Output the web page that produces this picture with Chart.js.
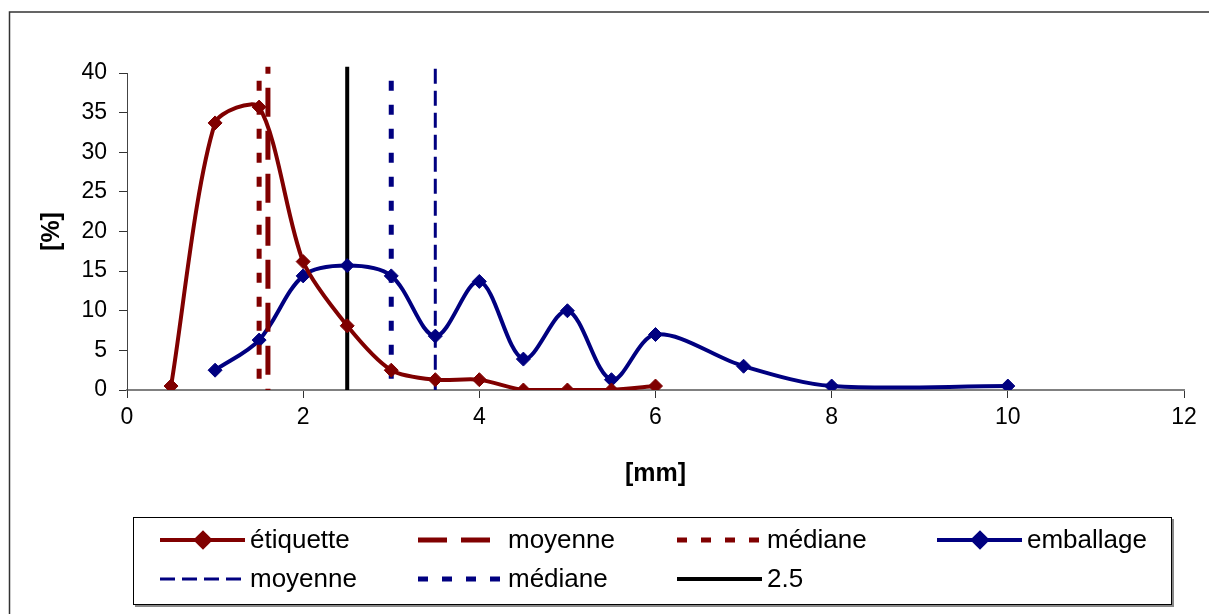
<!DOCTYPE html>
<html>
<head>
<meta charset="utf-8">
<script src="https://cdn.jsdelivr.net/npm/chart.js@4/dist/chart.umd.min.js"></script>
<style>
body{margin:0;background:#fff}
canvas{display:block}
</style>
</head>
<body>
<canvas id="graphe" width="1209" height="614"></canvas>
<script>

// données
let etiquetteX=[0.5,1,1.5,2,2.5,3,3.5,4,4.5,5,5.5,6]
let etiquetteY=[0.5,33.7,35.7,16.2,8.1,2.5,1.3,1.3,0,0,0,0.5]
let emballageX=[1,1.5,2,2.5,3,3.5,4,4.5,5,5.5,6,7,8,10]
let emballageY=[2.5,6.3,14.4,15.7,14.4,6.8,13.7,3.9,10,1.3,7,3,0.5,0.5]

let moyenneEtiquette=1.6
let medianeEtiquette=1.5
let moyenneEmballage=3.5
let medianeEmballage=3
let reference=2.5
let hauteurVerticale=[40.8,0]

let ticksX=[0,2,4,6,8,10,12]
let ticksY=[0,5,10,15,20,25,30,35,40]

let rouge="#800000"
let bleu="#000080"

function points(xs,ys){
return xs.map((x,i)=>({x:x,y:ys[i]}))
}

function verticale(x){
return hauteurVerticale.map(y=>({x:x,y:y}))
}

function courbe(label,xs,ys,couleur,tension){
return {
label:label,
data:points(xs,ys),
borderColor:couleur,
backgroundColor:couleur,
borderWidth:4,
tension:tension,
pointStyle:"rectRot",
pointRadius:7,
pointBorderWidth:1,
pointHoverRadius:7
}
}

function ligne(label,x,couleur,largeur,tirets,decalage){
return {
label:label,
data:verticale(x),
borderColor:couleur,
backgroundColor:couleur,
borderWidth:largeur,
borderDash:tirets,
borderDashOffset:decalage,
borderCapStyle:"butt",
pointRadius:0,
clip:false
}
}

let jeux=[
courbe("étiquette",etiquetteX,etiquetteY,rouge,0.27),
ligne("moyenne",moyenneEtiquette,rouge,5,[29,14],22),
ligne("médiane",medianeEtiquette,rouge,5,[10,14],10),
courbe("emballage",emballageX,emballageY,bleu,0.33),
ligne("moyenne",moyenneEmballage,bleu,3,[15,7],20),
ligne("médiane",medianeEmballage,bleu,5,[10,14],10),
ligne("2.5",reference,"#000",4,[],0)
]
jeux.forEach((j,i)=>j.order=i)

// légende dessinée à la main, grille 4 colonnes comme dans Excel
let colonnesLegende=[160,418,677,937]
let lignesLegende=[540,579]

let legende={
id:"legende",
afterDraw(chart){
let ctx=chart.ctx
ctx.save()

// cadre extérieur
ctx.strokeStyle="#333"
ctx.lineWidth=1.5
ctx.beginPath()
ctx.moveTo(9.5,614)
ctx.lineTo(9.5,12)
ctx.lineTo(1209,12)
ctx.stroke()

// cadre de la légende
ctx.fillStyle="#888"
ctx.fillRect(135,605,1039,2)
ctx.fillRect(1172,519,2,88)
ctx.strokeStyle="#000"
ctx.lineWidth=1
ctx.strokeRect(133.5,517.5,1038,87)

chart.data.datasets.forEach((ds,i)=>{
let x0=colonnesLegende[i%4]
let y=lignesLegende[Math.floor(i/4)]
ctx.strokeStyle=ds.borderColor
ctx.lineWidth=ds.borderWidth
ctx.lineCap="butt"
ctx.setLineDash(ds.borderDash||[])
ctx.beginPath()
ctx.moveTo(x0,y)
ctx.lineTo(x0+85,y)
ctx.stroke()
ctx.setLineDash([])
if(ds.pointRadius>0){
ctx.fillStyle=ds.borderColor
Chart.helpers.drawPoint(ctx,{pointStyle:"rectRot",radius:7,borderWidth:1},x0+43,y)
}
ctx.fillStyle="#000"
ctx.font="26px 'Liberation Sans', Arial, sans-serif"
ctx.textBaseline="middle"
ctx.textAlign="left"
ctx.fillText(ds.label,x0+90,y+1)
})
ctx.restore()
}
}

Chart.defaults.font.family="'Liberation Sans', Arial, sans-serif"
Chart.defaults.color="#000"

new Chart(document.getElementById("graphe"),{
type:"line",
data:{datasets:jeux},
options:{
responsive:false,
animation:false,
events:[],
layout:{padding:{left:0,top:73,right:25,bottom:104}},
plugins:{legend:{display:false},tooltip:{enabled:false}},
scales:{
x:{
type:"linear",
min:0,
max:12,
afterBuildTicks(s){s.ticks=ticksX.map(v=>({value:v}))},
afterFit(s){s.height=120},
border:{color:"#808080",width:2},
grid:{drawOnChartArea:false,drawTicks:true,tickLength:8,color:"#333"},
ticks:{font:{size:23},padding:6,maxRotation:0},
title:{display:true,text:"[mm]",font:{size:25,weight:"bold"},padding:{top:0,bottom:21}}
},
y:{
min:0,
max:40,
afterBuildTicks(s){s.ticks=ticksY.map(v=>({value:v}))},
afterFit(s){s.width=127},
border:{color:"#444",width:1},
grid:{drawOnChartArea:false,drawTicks:true,tickLength:8,color:"#333"},
ticks:{font:{size:23},padding:12},
title:{display:true,text:"[%]",font:{size:25,weight:"bold"},padding:{top:37,bottom:0}}
}
}
},
plugins:[legende]
})

</script>
</body>
</html>
